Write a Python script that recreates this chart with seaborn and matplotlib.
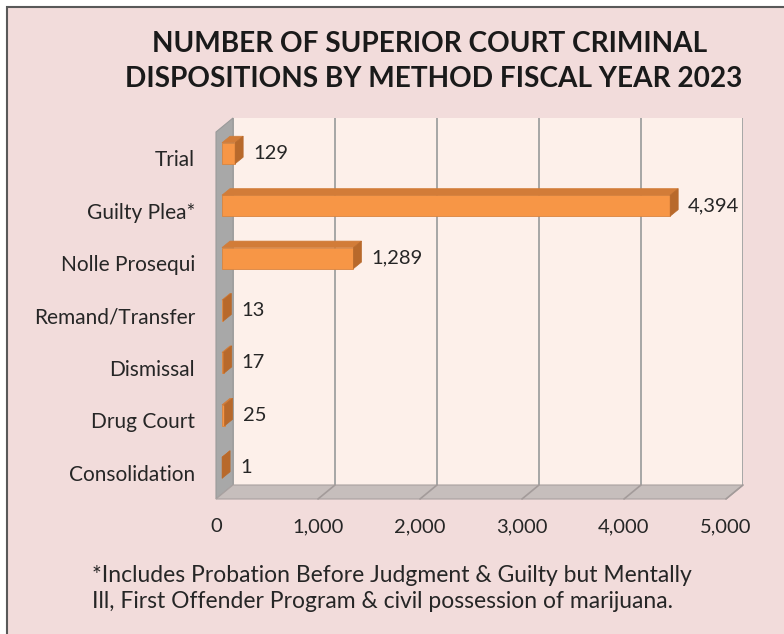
import matplotlib

matplotlib.use("Agg")
import matplotlib.pyplot as plt
import seaborn as sns
from matplotlib.lines import Line2D
from matplotlib.patches import Polygon, Rectangle
from matplotlib.transforms import IdentityTransform

sns.set_theme(style="white")
plt.rcParams["font.family"] = ["Lato", "DejaVu Sans"]

# chart data
categories = ["Trial", "Guilty Plea*", "Nolle Prosequi", "Remand/Transfer",
              "Dismissal", "Drug Court", "Consolidation"]
counts = [129, 4394, 1289, 13, 17, 25, 1]
x_ticks = [0, 1000, 2000, 3000, 4000, 5000]

title_lines = ["NUMBER OF SUPERIOR COURT CRIMINAL",
               "DISPOSITIONS BY METHOD FISCAL YEAR 2023"]
note_lines = ["*Includes Probation Before Judgment & Guilty but Mentally",
              "Ill, First Offender Program & civil possession of marijuana."]

W, H = 784, 634
BG = "#F2DCDB"
WALL = "#FDF0EA"
GRID = "#A6A6A6"
TEXT = "#262626"
ORANGE = "#F79646"
ORANGE_TOP = "#D27C38"
ORANGE_SIDE = "#B8692B"


def px_box(left, top, right, bottom):
    return [left / W, 1 - bottom / H, (right - left) / W, (bottom - top) / H]


fig = plt.figure(figsize=(W / 100, H / 100), dpi=100)
fig.patch.set_facecolor("white")
# chart frame: only the left and top edges fall inside the picture
fig.add_artist(Rectangle((7 / W, -0.1), 1.2, 1.1 - 7 / H, transform=fig.transFigure,
                         facecolor=BG, edgecolor="#595959", linewidth=1.5, zorder=-5))

# back wall with gridlines
ax_back = fig.add_axes(px_box(233, 118, 743, 485), zorder=0)
ax_back.set_facecolor(WALL)
ax_back.set_xlim(0, 5000)
ax_back.set_ylim(0, 1)
ax_back.set_xticks(x_ticks)
ax_back.set_yticks([])
ax_back.tick_params(labelbottom=False, length=0)
ax_back.grid(axis="x", color=GRID, linewidth=1.4)
for s in ax_back.spines.values():
    s.set_visible(False)

# front plane, carries the tick labels
ax_front = fig.add_axes(px_box(216, 132, 726, 499), zorder=3)
ax_front.set_facecolor("none")

# bars sit a bit behind the front plane
ax_bar = fig.add_axes(px_box(222, 127, 732, 494), zorder=2)
ax_bar.set_facecolor("none")
sns.barplot(x=counts, y=categories, orient="h", color=ORANGE, saturation=1,
            width=0.4, edgecolor="#D98540", linewidth=0.6, ax=ax_bar)
ax_bar.set_xlim(0, 5000)
ylim = ax_bar.get_ylim()
ax_bar.bar_label(ax_bar.containers[0], fmt="{:,.0f}", padding=13,
                 fontsize=14.5, color=TEXT)
ax_bar.axis("off")

ax_front.set_xlim(0, 5000)
ax_front.set_ylim(ylim)
ax_front.set_xticks(x_ticks)
ax_front.set_xticklabels([f"{v:,}" for v in x_ticks])
ax_front.set_yticks(range(len(categories)))
ax_front.set_yticklabels(categories)
ax_front.tick_params(axis="x", length=0, pad=14, labelsize=14.5, colors=TEXT)
ax_front.tick_params(axis="y", length=0, pad=15, labelsize=15, colors=TEXT)
for s in ax_front.spines.values():
    s.set_visible(False)

# left wall and floor, between the back wall and the bars
bt = ax_back.get_xaxis_transform()
ft = ax_front.get_xaxis_transform()
x0, x1 = x_ticks[0], x_ticks[-1]
wall = [bt.transform((x0, 1)), bt.transform((x0, 0)),
        ft.transform((x0, 0)), ft.transform((x0, 1))]
fig.add_artist(Polygon(wall, closed=True, transform=IdentityTransform(),
                       facecolor="#A8A8A8", edgecolor="#9A9A9A", linewidth=0.8, zorder=1))
floor = [bt.transform((x0, 0)), bt.transform((x1, 0)),
         ft.transform((x1, 0)), ft.transform((x0, 0))]
fig.add_artist(Polygon(floor, closed=True, transform=IdentityTransform(),
                       facecolor="#C6BEBC", edgecolor="#A9A1A0", linewidth=0.8, zorder=1))
for v in x_ticks[1:]:
    p, q = bt.transform((v, 0)), ft.transform((v, 0))
    fig.add_artist(Line2D([p[0], q[0]], [p[1], q[1]], transform=IdentityTransform(),
                          color="#A39B9A", linewidth=1.2, zorder=1.5))

# 3d faces on each bar
dx, dy = 8, 6.5
for patch in ax_bar.patches:
    px, py = patch.get_x(), patch.get_y()
    a = ax_bar.transData.transform((px, py))
    b = ax_bar.transData.transform((px + patch.get_width(), py + patch.get_height()))
    left, right = min(a[0], b[0]), max(a[0], b[0])
    bottom, top = min(a[1], b[1]), max(a[1], b[1])
    top_face = [(left, top), (right, top), (right + dx, top + dy), (left + dx, top + dy)]
    side_face = [(right, bottom), (right, top), (right + dx, top + dy), (right + dx, bottom + dy)]
    for verts, col in [(top_face, ORANGE_TOP), (side_face, ORANGE_SIDE)]:
        ax_bar.add_patch(Polygon(verts, closed=True, transform=IdentityTransform(),
                                 facecolor=col, edgecolor=col, linewidth=0.5, clip_on=False))

fig.text(430 / W, 1 - 44 / H, title_lines[0], ha="center", va="center",
         fontsize=20.2, fontweight="bold", color="#1A1A1A")
fig.text(434 / W, 1 - 79 / H, title_lines[1], ha="center", va="center",
         fontsize=20.2, fontweight="bold", color="#1A1A1A")
fig.text(92 / W, 1 - 575 / H, note_lines[0], ha="left", va="center",
         fontsize=16.5, color=TEXT)
fig.text(92 / W, 1 - 601 / H, note_lines[1], ha="left", va="center",
         fontsize=16.5, color=TEXT)

fig.savefig("out.png", dpi=100, facecolor=fig.get_facecolor())
